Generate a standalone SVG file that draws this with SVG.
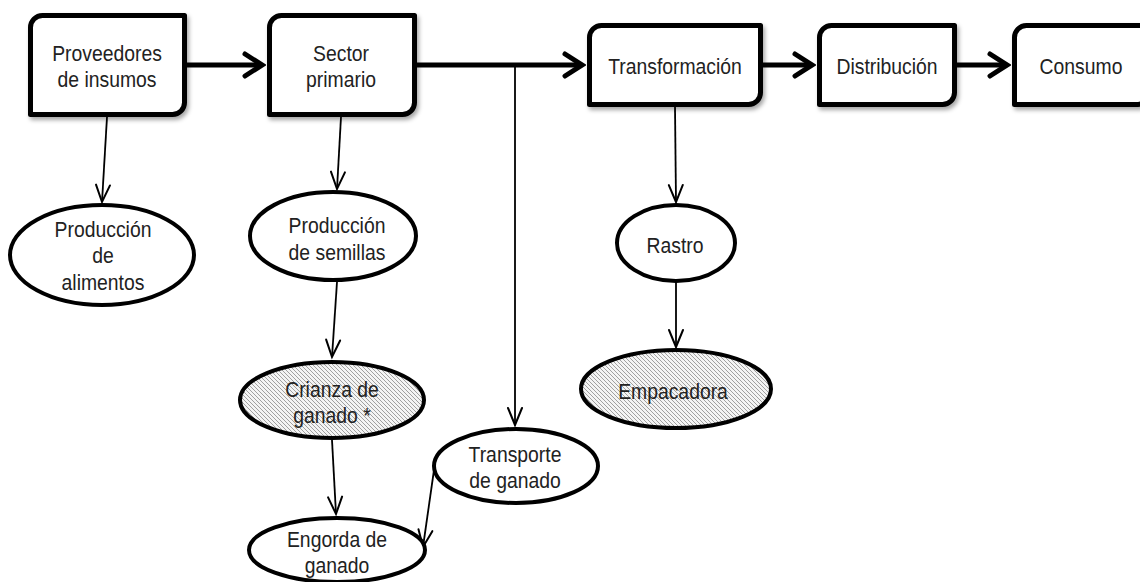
<svg xmlns="http://www.w3.org/2000/svg" width="1140" height="582" viewBox="0 0 1140 582">
<style>
.box{fill:#fff;stroke:#000;stroke-width:5;stroke-linejoin:round;filter:url(#sh)}
.ell{fill:#fff;stroke:#000;stroke-width:4}
.hat{fill:url(#hatch);stroke:#000;stroke-width:4}
.t{font-family:"Liberation Sans",Arial,sans-serif;font-size:22px;fill:#222;text-anchor:middle}
.thick{stroke:#000;stroke-width:5;fill:none;marker-end:url(#ah)}
.thin{stroke:#000;stroke-width:1.8;fill:none;marker-end:url(#as)}
</style>
<defs>
<filter id="sh" x="-10%" y="-10%" width="130%" height="140%">
<feDropShadow dx="2" dy="3" stdDeviation="2" flood-color="#000" flood-opacity="0.35"/>
</filter>
<pattern id="hatch" patternUnits="userSpaceOnUse" width="4" height="4">
<rect width="4" height="4" fill="#f4f4f4"/>
<path d="M-1,-1 L5,5 M-1,3 L1,5 M3,-1 L5,1" stroke="#8a8a8a" stroke-width="0.8"/>
</pattern>
<marker id="ah" markerUnits="userSpaceOnUse" viewBox="-22 -16 26 32" refX="0" refY="0" markerWidth="26" markerHeight="32" orient="auto">
<path d="M-17,-11 L0,0 L-17,11" fill="none" stroke="#000" stroke-width="5" stroke-linecap="round" stroke-linejoin="miter"/>
</marker>
<marker id="as" markerUnits="userSpaceOnUse" viewBox="-20 -12 24 24" refX="0" refY="0" markerWidth="24" markerHeight="24" orient="auto">
<path d="M-17,-7 L0,0 L-17,7" fill="none" stroke="#000" stroke-width="2" stroke-linecap="round"/>
</marker>
</defs>
<rect width="1140" height="582" fill="#fff"/>
<g id="connectors">
<line class="thick" x1="187" y1="65" x2="262" y2="65"/>
<line class="thick" x1="417" y1="65" x2="582" y2="65"/>
<line class="thick" x1="763" y1="65" x2="812" y2="65"/>
<line class="thick" x1="957" y1="65" x2="1007" y2="65"/>
<line class="thin" x1="107" y1="117" x2="102" y2="202"/>
<line class="thin" x1="341" y1="117" x2="337" y2="189"/>
<line class="thin" x1="337" y1="282" x2="332" y2="357"/>
<line class="thin" x1="332" y1="440" x2="336" y2="514"/>
<line class="thin" x1="515" y1="66" x2="515" y2="425"/>
<line class="thin" x1="434" y1="470" x2="423" y2="547"/>
<line class="thin" x1="675" y1="107" x2="676" y2="202"/>
<line class="thin" x1="676" y1="282" x2="676" y2="347"/>
</g>
<g id="proveedores">
<path class="box" d="M42.5,15.5 H184.5 V102.5 A12,12 0 0 1 172.5,114.5 H30.5 V27.5 A12,12 0 0 1 42.5,15.5 Z"/>
<text class="t" transform="translate(107 61) scale(0.88 1)"><tspan x="0">Proveedores</tspan><tspan x="0" dy="26">de insumos</tspan></text>
</g>
<g id="sector">
<path class="box" d="M281.5,15.5 H414.5 V102.5 A12,12 0 0 1 402.5,114.5 H269.5 V27.5 A12,12 0 0 1 281.5,15.5 Z"/>
<text class="t" transform="translate(341 61) scale(0.88 1)"><tspan x="0">Sector</tspan><tspan x="0" dy="26">primario</tspan></text>
</g>
<g id="transformacion">
<path class="box" d="M601.5,25.5 H760.5 V92.5 A12,12 0 0 1 748.5,104.5 H589.5 V37.5 A12,12 0 0 1 601.5,25.5 Z"/>
<text class="t" transform="translate(675 74) scale(0.88 1)">Transformación</text>
</g>
<g id="distribucion">
<path class="box" d="M831.5,25.5 H954.5 V92.5 A12,12 0 0 1 942.5,104.5 H819.5 V37.5 A12,12 0 0 1 831.5,25.5 Z"/>
<text class="t" transform="translate(887 74) scale(0.88 1)">Distribución</text>
</g>
<g id="consumo">
<path class="box" d="M1026.5,25.5 H1150 V92.5 A12,12 0 0 1 1138,104.5 H1014.5 V37.5 A12,12 0 0 1 1026.5,25.5 Z"/>
<text class="t" transform="translate(1081 74) scale(0.88 1)">Consumo</text>
</g>
<g id="alimentos">
<ellipse class="ell" cx="102" cy="255" rx="92" ry="50"/>
<text class="t" transform="translate(103 237) scale(0.88 1)"><tspan x="0">Producción</tspan><tspan x="0" dy="26.5">de</tspan><tspan x="0" dy="26.5">alimentos</tspan></text>
</g>
<g id="semillas">
<ellipse class="ell" cx="333" cy="236" rx="83" ry="44"/>
<text class="t" transform="translate(337 233) scale(0.88 1)"><tspan x="0">Producción</tspan><tspan x="0" dy="27">de semillas</tspan></text>
</g>
<g id="crianza">
<ellipse class="hat" cx="332" cy="400" rx="92" ry="38"/>
<text class="t" transform="translate(332 397) scale(0.88 1)"><tspan x="0">Crianza de</tspan><tspan x="0" dy="26">ganado *</tspan></text>
</g>
<g id="engorda">
<ellipse class="ell" cx="337" cy="550" rx="88" ry="32"/>
<text class="t" transform="translate(337 547) scale(0.88 1)"><tspan x="0">Engorda de</tspan><tspan x="0" dy="26">ganado</tspan></text>
</g>
<g id="transporte">
<ellipse class="ell" cx="516" cy="466" rx="82" ry="37"/>
<text class="t" transform="translate(515 462) scale(0.88 1)"><tspan x="0">Transporte</tspan><tspan x="0" dy="26">de ganado</tspan></text>
</g>
<g id="rastro">
<ellipse class="ell" cx="676" cy="243" rx="59" ry="38"/>
<text class="t" transform="translate(675 253) scale(0.88 1)">Rastro</text>
</g>
<g id="empacadora">
<ellipse class="hat" cx="676" cy="389" rx="95" ry="39"/>
<text class="t" transform="translate(673 399) scale(0.88 1)">Empacadora</text>
</g>
</svg>
